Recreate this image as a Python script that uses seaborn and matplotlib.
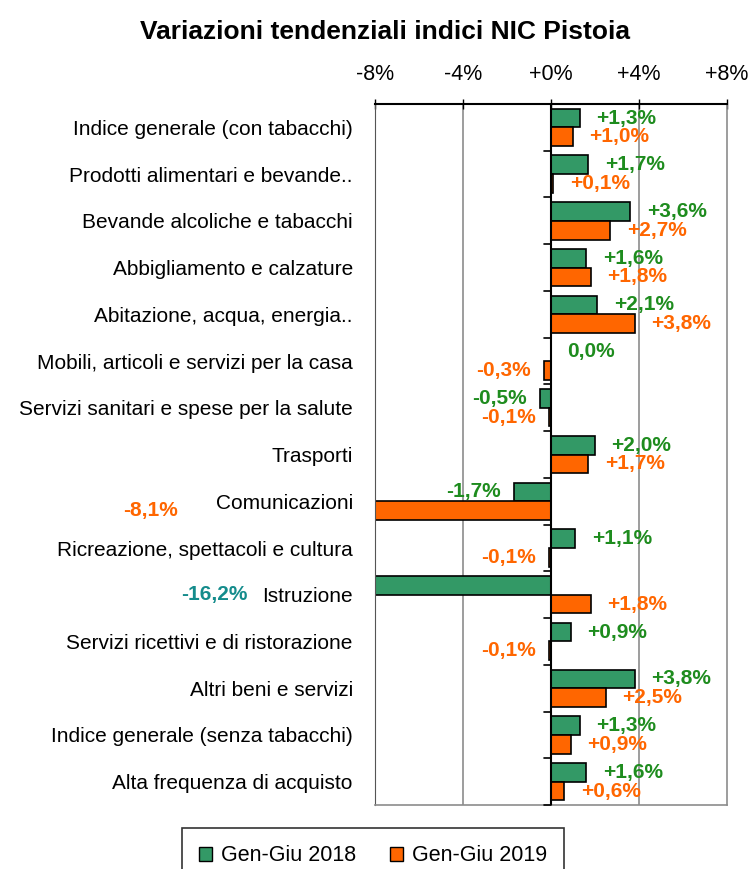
import pandas as pd
import numpy as np
import matplotlib.pyplot as plt
import seaborn as sns

# data
categories = [
    'Indice generale (con tabacchi)',
    'Prodotti alimentari e bevande..',
    'Bevande alcoliche e tabacchi',
    'Abbigliamento e calzature',
    'Abitazione, acqua, energia..',
    'Mobili, articoli e servizi per la casa',
    'Servizi sanitari e spese per la salute',
    'Trasporti',
    'Comunicazioni',
    'Ricreazione, spettacoli e cultura',
    'Istruzione',
    'Servizi ricettivi e di ristorazione',
    'Altri beni e servizi',
    'Indice generale (senza tabacchi)',
    'Alta frequenza di acquisto',
]
val_2018 = [1.3, 1.7, 3.6, 1.6, 2.1, 0.0, -0.5, 2.0, -1.7, 1.1, -16.2, 0.9, 3.8, 1.3, 1.6]
val_2019 = [1.0, 0.1, 2.7, 1.8, 3.8, -0.3, -0.1, 1.7, -8.1, -0.1, 1.8, -0.1, 2.5, 0.9, 0.6]
series = ['Gen-Giu 2018', 'Gen-Giu 2019']
tick_vals = [-8, -4, 0, 4, 8]
tick_labels = ['-8%', '-4%', '+0%', '+4%', '+8%']

bar_colors = ['#339966', '#FF6600']
text_colors = ['#1E8C1E', '#FF6600']

df = pd.DataFrame({
    'cat': categories * 2,
    'serie': [series[0]] * len(categories) + [series[1]] * len(categories),
    'val': val_2018 + val_2019,
})

sns.set_style('white')
plt.rcParams['font.family'] = ['Liberation Sans', 'DejaVu Sans']
plt.rcParams['text.color'] = 'black'
plt.rcParams['xtick.color'] = 'black'
plt.rcParams['ytick.color'] = 'black'

fig = plt.figure(figsize=(7.49, 8.69), dpi=100)
ax = fig.add_axes([0.5007, 0.0736, 0.4699, 0.8067])

sns.barplot(data=df, y='cat', x='val', hue='serie', orient='h',
            palette=bar_colors, saturation=1, edgecolor='black', linewidth=1.2,
            width=0.8, ax=ax, legend=False)

ax.set_xlim(-8, 8)
ax.set_ylim(len(categories) - 0.5, -0.5)
ax.xaxis.tick_top()
ax.set_xticks(tick_vals)
ax.set_xticklabels(tick_labels, fontsize=15.5)
ax.tick_params(axis='x', direction='inout', length=7, width=1, color='black', pad=10)
ax.tick_params(axis='y', length=0, labelsize=15, pad=16)
ax.set_xlabel('')
ax.set_ylabel('')

for x in [-4, 4]:
    ax.axvline(x, color='#8c8c8c', lw=1.2, zorder=0)
ax.axvline(0, color='black', lw=1.5, zorder=3)
for sp in ['right', 'bottom']:
    ax.spines[sp].set_color('#8c8c8c')
    ax.spines[sp].set_linewidth(1.2)
ax.spines['left'].set_color('#555555')
ax.spines['top'].set_color('black')
ax.spines['top'].set_linewidth(1.5)

# small category ticks on the zero line
for i in range(len(categories) + 1):
    ax.plot([-0.3, 0], [i - 0.5, i - 0.5], color='black', lw=1.2, zorder=4,
            clip_on=False)

# value labels
def fmt(v):
    s = f'{v:+.1f}%'.replace('.', ',')
    return '0,0%' if v == 0 else s

offsets = [-0.2, 0.2]
for k, vals in enumerate([val_2018, val_2019]):
    for i, v in enumerate(vals):
        y = i + offsets[k]
        color = text_colors[k]
        if v < -8:
            # off-scale bars get their labels left of the axis
            if k == 0:
                x, ha, color, y = -13.8, 'right', '#148C8C', i
            else:
                x, ha = -16.95, 'right'
        elif v >= 0:
            x, ha = v + 0.75, 'left'
        else:
            x, ha = v - 0.6, 'right'
        ax.text(x, y, fmt(v), ha=ha, va='center', color=color,
                fontsize=15, fontweight='bold', clip_on=False, zorder=5)

fig.text(0.514, 0.963, 'Variazioni tendenziali indici NIC Pistoia',
         ha='center', va='center', fontsize=19, fontweight='bold')

handles = [plt.Rectangle((0, 0), 1, 1, facecolor=c, edgecolor='black', lw=1)
           for c in bar_colors]
leg = fig.legend(handles, series, loc='upper center', bbox_to_anchor=(0.498, 0.047),
                 ncol=2, fontsize=15.5, frameon=True, fancybox=False,
                 handlelength=0.6, handleheight=0.6, handletextpad=0.4,
                 columnspacing=1.6, borderpad=0.8, borderaxespad=0)
leg.get_frame().set_edgecolor('black')
leg.get_frame().set_linewidth(1.2)

fig.savefig('out.png', dpi=100)
